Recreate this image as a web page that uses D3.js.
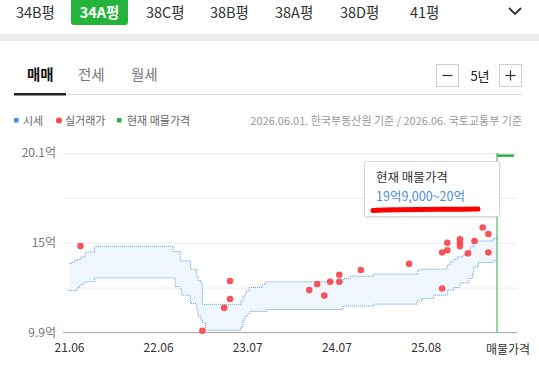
<!DOCTYPE html>
<html>
<head>
<meta charset="utf-8">
<script src="https://cdn.jsdelivr.net/npm/d3@7"></script>
<style>
  body { margin: 0; background: #fff; }
  svg { display: block; font-family: "Noto Sans CJK KR", "Noto Sans", sans-serif; }
</style>
</head>
<body>
<div id="chart"></div>
<script>
// 평형 탭
const sizeTabs = ["34B평", "34A평", "38C평", "38B평", "38A평", "38D평", "41평"];
const activeTab = "34A평";
const dealTabs = ["매매", "전세", "월세"];
const periodLabel = "5년";

// 시세 (상한 / 하한, 억) - 변경 시점별
const bandDates = [
  "2021-06-01", "2021-06-15", "2021-06-26", "2021-07-06", "2021-07-17", "2021-07-22",
  "2021-08-01", "2021-08-09", "2021-08-13", "2021-09-18", "2022-08-19", "2022-08-28",
  "2022-09-19", "2022-09-25", "2022-11-01", "2022-11-28", "2022-12-04", "2022-12-16",
  "2022-12-22", "2023-01-04", "2023-06-04", "2023-06-13", "2023-06-22", "2023-06-28",
  "2023-07-04", "2023-07-10", "2023-07-13", "2023-09-04", "2023-09-16", "2023-09-22",
  "2024-08-13", "2024-08-16", "2024-09-13", "2024-12-22", "2025-06-25", "2025-06-28",
  "2025-07-16", "2025-09-04", "2025-11-01", "2025-11-13", "2025-11-28", "2025-12-13",
  "2025-12-25", "2026-01-10", "2026-01-25", "2026-02-01", "2026-02-07", "2026-02-16",
  "2026-02-22", "2026-03-13", "2026-05-16", "2026-06-01"
];
const bandUpper = [
  13.83, 13.90, 14.00, 14.05, 14.10, 14.20,
  14.20, 14.47, 14.47, 14.80, 14.50, 14.50,
  13.97, 13.97, 13.50, 13.07, 12.85, 12.70,
  11.50, 11.50, 11.70, 11.97, 12.10, 12.27,
  12.27, 12.46, 12.46, 12.63, 12.78, 12.78,
  12.78, 12.97, 13.10, 13.22, 13.22, 13.45,
  13.50, 13.50, 13.73, 13.92, 14.05, 14.20,
  14.20, 14.34, 14.49, 14.49, 14.77, 14.77,
  15.10, 15.10, 15.25, 15.25
];
const bandLower = [
  12.29, 12.29, 12.29, 12.46, 12.60, 12.60,
  12.72, 12.72, 12.78, 13.00, 13.00, 12.50,
  12.35, 12.02, 11.55, 11.17, 10.83, 10.60,
  10.45, 10.03, 10.20, 10.60, 10.83, 10.83,
  10.98, 10.98, 11.10, 11.10, 11.10, 11.21,
  11.40, 11.40, 11.40, 11.51, 11.70, 11.70,
  11.83, 12.02, 12.31, 12.31, 12.46, 12.46,
  12.72, 12.72, 12.72, 12.97, 12.97, 13.26,
  13.63, 13.88, 13.97, 13.97
];

// 실거래가 (억)
const dealDates = [
  "2021-07-20", "2022-12-22", "2023-03-25", "2023-04-19", "2023-04-19", "2024-03-22",
  "2024-04-25", "2024-05-25", "2024-06-19", "2024-07-28", "2024-07-28", "2024-10-28",
  "2025-05-22", "2025-10-10", "2025-10-10", "2025-11-01", "2025-11-01", "2025-12-25",
  "2025-12-25", "2025-12-25", "2026-01-28", "2026-02-25", "2026-04-01", "2026-04-25",
  "2026-04-25"
];
const dealPrices = [
  14.81, 10.00, 11.30, 11.80, 12.82, 12.31,
  12.65, 12.00, 12.78, 12.78, 13.18, 13.45,
  13.80, 12.40, 14.45, 14.57, 15.00, 15.20,
  15.00, 14.80, 14.40, 15.10, 15.87, 15.50,
  14.45
];

// 현재 매물가격 (억)
const listingRange = [19.9, 20.0];
const listingText = "19억9,000~20억";

// 축
const yTicks = [9.9, 12.45, 15, 17.55, 20.1];
const yLabels = [9.9, 15, 20.1];
const xTickDates = ["2021-06-01", "2022-06-16", "2023-07-01", "2024-07-16", "2025-08-01"];
const xDomain = ["2021-06-01", "2026-06-01"];
const listingAxisLabel = "매물가격";

const noteText = "2026.06.01. 한국부동산원 기준 / 2026.06. 국토교통부 기준";

const parse = d3.timeParse("%Y-%m-%d");
const band = bandDates.map((d, i) => ({ date: parse(d), hi: bandUpper[i], lo: bandLower[i] }));
const deals = dealDates.map((d, i) => ({ date: parse(d), price: dealPrices[i] }));

const W = 539, H = 379;
const blue = "#4a90e2", red = "#f5454d", green = "#2eae48";

const svg = d3.select("#chart").append("svg")
  .attr("width", W)
  .attr("height", H);

svg.append("rect").attr("width", W).attr("height", H).attr("fill", "#fff");

// ---- 상단 평형 탭
const tabX = [16, 73, 146, 210, 275, 340, 410];
const tabs = svg.append("g");
tabs.append("rect")
  .attr("x", 71).attr("y", -4)
  .attr("width", 57).attr("height", 29)
  .attr("rx", 3)
  .attr("fill", "#25b33b");
sizeTabs.forEach((t, i) => {
  const isActive = t === activeTab;
  tabs.append("text")
    .attr("x", isActive ? 99.5 : tabX[i])
    .attr("y", 18)
    .attr("text-anchor", isActive ? "middle" : "start")
    .attr("font-size", 14.5)
    .attr("font-weight", isActive ? "bold" : "normal")
    .attr("fill", isActive ? "#fff" : "#333")
    .text(t);
});
tabs.append("path")
  .attr("d", "M509,8 L515,14 L521,8")
  .attr("fill", "none")
  .attr("stroke", "#333")
  .attr("stroke-width", 1.8);

svg.append("rect")
  .attr("x", 0).attr("y", 34)
  .attr("width", W).attr("height", 7)
  .attr("fill", "#ececec");

// ---- 거래유형 탭
const dealTabX = [27, 78, 131];
dealTabs.forEach((t, i) => {
  svg.append("text")
    .attr("x", dealTabX[i])
    .attr("y", 79.5)
    .attr("font-size", 14.5)
    .attr("font-weight", i === 0 ? "bold" : "normal")
    .attr("fill", i === 0 ? "#111" : "#777")
    .text(t);
});
svg.append("line")
  .attr("x1", 66).attr("x2", 522)
  .attr("y1", 94.5).attr("y2", 94.5)
  .attr("stroke", "#dcdcdc");
svg.append("rect")
  .attr("x", 14).attr("y", 93)
  .attr("width", 52).attr("height", 2.5)
  .attr("fill", "#222");

// 기간 버튼
[436.5, 499.5].forEach((bx, i) => {
  svg.append("rect")
    .attr("x", bx).attr("y", 64.5)
    .attr("width", 22).attr("height", 22)
    .attr("fill", "#fff")
    .attr("stroke", "#cfcfcf");
  svg.append("line")
    .attr("x1", bx + 6).attr("x2", bx + 16)
    .attr("y1", 75.5).attr("y2", 75.5)
    .attr("stroke", "#333").attr("stroke-width", 1.2);
  if (i === 1) {
    svg.append("line")
      .attr("x1", bx + 11).attr("x2", bx + 11)
      .attr("y1", 70.5).attr("y2", 80.5)
      .attr("stroke", "#333").attr("stroke-width", 1.2);
  }
});
svg.append("text")
  .attr("x", 480).attr("y", 81)
  .attr("text-anchor", "middle")
  .attr("font-size", 13)
  .attr("fill", "#222")
  .text(periodLabel);

// ---- 범례
const legend = svg.append("g").attr("font-size", 11).attr("fill", "#666");
legend.append("rect").attr("x", 14).attr("y", 118).attr("width", 4.5).attr("height", 4.5).attr("fill", blue);
legend.append("text").attr("x", 23).attr("y", 124.5).text("시세");
legend.append("circle").attr("cx", 59).attr("cy", 120.5).attr("r", 3).attr("fill", red);
legend.append("text").attr("x", 65).attr("y", 124.5).text("실거래가");
legend.append("rect").attr("x", 117).attr("y", 118).attr("width", 4.5).attr("height", 4.5).attr("fill", green);
legend.append("text").attr("x", 127).attr("y", 124.5).text("현재 매물가격");
legend.append("text")
  .attr("x", 522).attr("y", 124.5)
  .attr("text-anchor", "end")
  .attr("fill", "#999")
  .text(noteText);

// ---- 차트
const plotLeft = 63, plotRight = 517;
const x = d3.scaleTime()
  .domain(xDomain.map(parse))
  .range([69, 497]);
const y = d3.scaleLinear()
  .domain([9.9, 20.1])
  .range([332.5, 153]);

// 그리드 + y 라벨
const yAxis = svg.append("g")
  .attr("transform", `translate(${plotLeft},0)`)
  .call(d3.axisLeft(y)
    .tickValues(yTicks)
    .tickSize(-(plotRight - plotLeft))
    .tickPadding(7)
    .tickFormat(d => yLabels.includes(d) ? d + "억" : ""));
yAxis.select(".domain").remove();
yAxis.selectAll(".tick line").attr("stroke", "#ebebeb");
yAxis.selectAll(".tick text")
  .attr("font-family", "Noto Sans CJK KR, Noto Sans, sans-serif")
  .attr("font-size", 12)
  .attr("fill", "#777");

// 시세 밴드
const area = d3.area()
  .curve(d3.curveStepAfter)
  .x(d => x(d.date))
  .y0(d => y(d.lo))
  .y1(d => y(d.hi));
svg.append("path")
  .datum(band)
  .attr("d", area)
  .attr("fill", "#f0f6fd");

["hi", "lo"].forEach(k => {
  svg.append("path")
    .datum(band)
    .attr("d", d3.line().curve(d3.curveStepAfter).x(d => x(d.date)).y(d => y(d[k])))
    .attr("fill", "none")
    .attr("stroke", "#5b9de6")
    .attr("stroke-width", 1)
    .attr("stroke-dasharray", "1,1");
});

// x 축
svg.append("line")
  .attr("x1", plotLeft).attr("x2", plotRight)
  .attr("y1", 332.5).attr("y2", 332.5)
  .attr("stroke", "#aaa");

const xAxis = svg.append("g")
  .attr("transform", "translate(0,332.5)")
  .call(d3.axisBottom(x)
    .tickValues(xTickDates.map(parse))
    .tickSize(0)
    .tickPadding(11)
    .tickFormat(d3.timeFormat("%y.%m")));
xAxis.select(".domain").remove();
xAxis.selectAll(".tick text")
  .attr("font-family", "Noto Sans CJK KR, Noto Sans, sans-serif")
  .attr("font-size", 12)
  .attr("fill", "#333");

svg.append("text")
  .attr("x", 508)
  .attr("y", 353.5)
  .attr("text-anchor", "middle")
  .attr("font-size", 12)
  .attr("fill", "#333")
  .text(listingAxisLabel);

// 현재 매물가격
svg.append("line")
  .attr("x1", 497).attr("x2", 497)
  .attr("y1", 153).attr("y2", 332.5)
  .attr("stroke", green)
  .attr("stroke-width", 1);
svg.append("line")
  .attr("x1", 497).attr("x2", 514)
  .attr("y1", y(d3.mean(listingRange))).attr("y2", y(d3.mean(listingRange)))
  .attr("stroke", green)
  .attr("stroke-width", 2.5);

// 실거래가 점
svg.selectAll(".deal")
  .data(deals)
  .enter().append("circle")
  .attr("class", "deal")
  .attr("cx", d => x(d.date))
  .attr("cy", d => y(d.price))
  .attr("r", 3.3)
  .attr("fill", red)
  .attr("fill-opacity", 0.92);

// 툴팁
const defs = svg.append("defs");
const f = defs.append("filter").attr("id", "shadow").attr("x", "-10%").attr("y", "-10%").attr("width", "120%").attr("height", "130%");
f.append("feDropShadow").attr("dx", 0).attr("dy", 1).attr("stdDeviation", 1.2).attr("flood-color", "#000").attr("flood-opacity", 0.12);

const tip = svg.append("g");
tip.append("rect")
  .attr("x", 364.5).attr("y", 161.5)
  .attr("width", 135).attr("height", 55)
  .attr("rx", 2)
  .attr("fill", "#fff")
  .attr("stroke", "#d9d9d9")
  .attr("filter", "url(#shadow)");
tip.append("text")
  .attr("x", 376).attr("y", 182)
  .attr("font-size", 12.5)
  .attr("fill", "#333")
  .text("현재 매물가격");
tip.append("text")
  .attr("x", 376).attr("y", 201)
  .attr("font-size", 12.5)
  .attr("fill", blue)
  .text(listingText);
tip.append("path")
  .attr("d", "M373,210.5 C400,209 440,209.5 478,209")
  .attr("fill", "none")
  .attr("stroke", "#ff0000")
  .attr("stroke-width", 5)
  .attr("stroke-linecap", "round");
</script>
</body>
</html>
